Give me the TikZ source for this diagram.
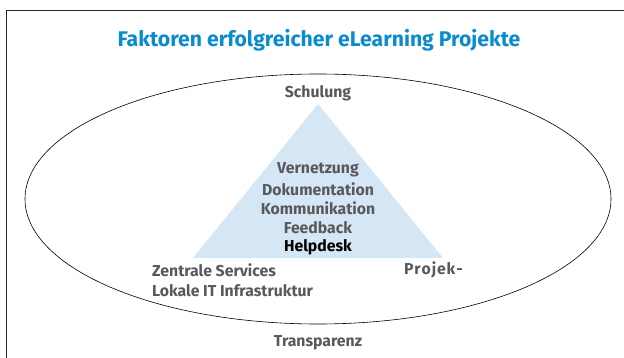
\documentclass[tikz,border=0pt]{standalone}
\usepackage{xcolor}
\usepackage{fontspec}
\setmainfont{Fira Sans}
\usepackage{tikz}
\usetikzlibrary{positioning}
\definecolor{titleblue}{HTML}{0B8BCF}
\definecolor{labelgray}{HTML}{58595B}
\definecolor{trifill}{HTML}{D5E6F5}

\begin{document}
\begin{tikzpicture}[
        x=1pt, y=-1pt,
        node distance=19.3pt,
        every node/.style={
            inner sep=0pt,
            text=labelgray,
            font=\fontsize{15.8}{18}\selectfont\bfseries
        },
        titletext/.style={
            text=titleblue,
            font=\fontsize{21.2}{25}\selectfont\bfseries
        },
        corner/.style={
            anchor=west,
            align=left
        },
        frameline/.style={
            line width=0.8pt,
            color=black!85
        }
    ]
        \useasboundingbox (0,0) rectangle (624,358);
        \draw[frameline] (6,358) -- (6,10.5) -- (624,10.5);

        \draw[line width=0.6pt] (318,199) ellipse [x radius=293, y radius=125];
        \fill[trifill] (318,104) -- (443,258) -- (193,258) -- cycle;

        \node[titletext] (title) at (319,40) {Faktoren erfolgreicher eLearning Projekte};
        \node (schulung) at (318,93) {Schulung};

        \node (vernetz) at (318,170) {Vernetzung};
        \node (doku) [below of=vernetz] {Dokumentation};
        \node (komm) [below of=doku] {Kommunikation};
        \node (feedback) [below of=komm] {Feedback};
        \node (help) [below of=feedback, text=black] {Helpdesk};

        \node (zentral) [corner] at (152,270) {Zentrale Services};
        \node (lokal) [corner] at (152,291) {Lokale IT Infrastruktur};
        \node (projek) [anchor=east] at (463,270) {P\kern.9pt r\kern.9pt o\kern.9pt j\kern.9pt e\kern.9pt k\kern.9pt -};
        \node (transp) at (318,343) {Transparenz};
    \end{tikzpicture}
\end{document}
